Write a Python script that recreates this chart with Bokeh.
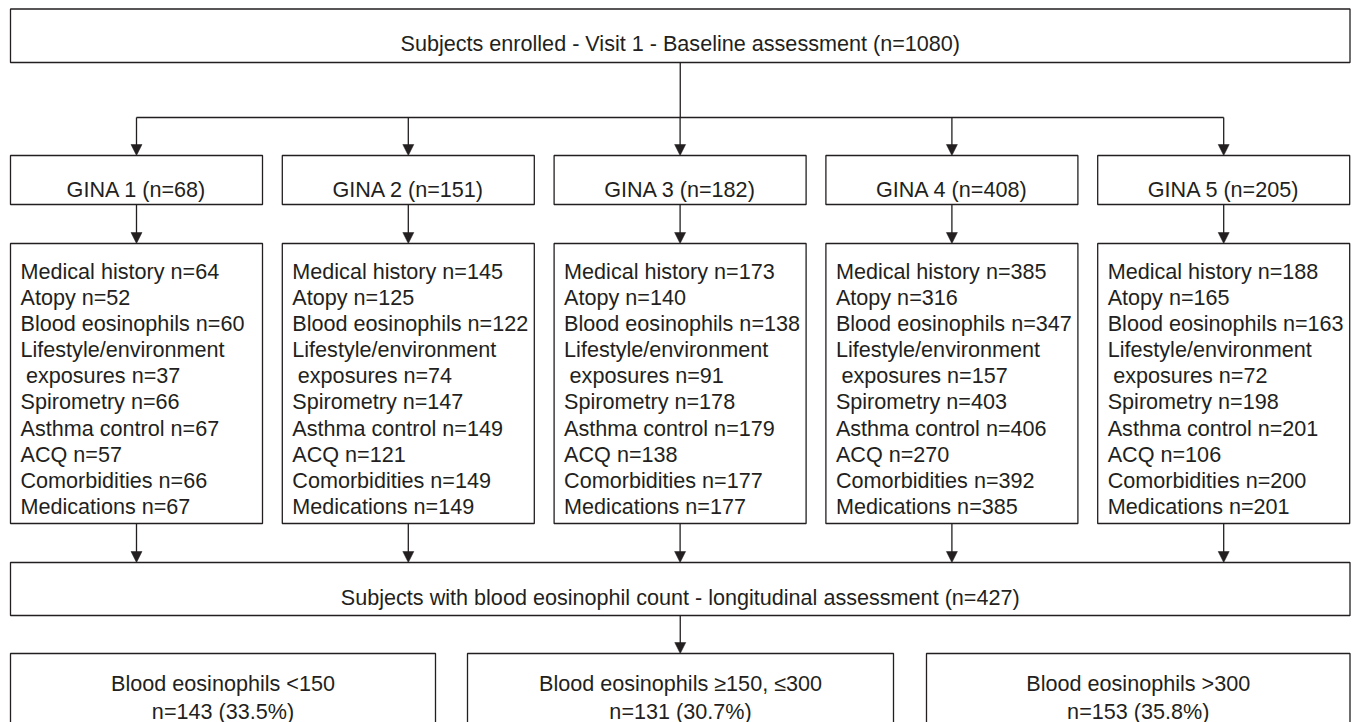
from bokeh.plotting import figure
from bokeh.models import Range1d
from bokeh.core.properties import value
from bokeh.embed import file_html
from bokeh.resources import INLINE

# ---------------- data ----------------
enrolled_label = "Subjects enrolled - Visit 1 - Baseline assessment"
enrolled_n = 1080
gina_labels = ["GINA 1", "GINA 2", "GINA 3", "GINA 4", "GINA 5"]
gina_n = [68, 151, 182, 408, 205]
item_labels = ["Medical history", "Atopy", "Blood eosinophils",
               "Lifestyle/environment exposures", "Spirometry",
               "Asthma control", "ACQ", "Comorbidities", "Medications"]
medical_history_n = [64, 145, 173, 385, 188]
atopy_n = [52, 125, 140, 316, 165]
blood_eos_n = [60, 122, 138, 347, 163]
lifestyle_n = [37, 74, 91, 157, 72]
spirometry_n = [66, 147, 178, 403, 198]
asthma_control_n = [67, 149, 179, 406, 201]
acq_n = [57, 121, 138, 270, 106]
comorbidities_n = [66, 149, 177, 392, 200]
medications_n = [67, 149, 177, 385, 201]
longitudinal_label = "Subjects with blood eosinophil count - longitudinal assessment"
longitudinal_n = 427
eos_groups = ["Blood eosinophils <150", "Blood eosinophils \u2265150, \u2264300",
              "Blood eosinophils >300"]
eos_n = [143, 131, 153]
eos_pct = [33.5, 30.7, 35.8]

item_counts = [medical_history_n, atopy_n, blood_eos_n, lifestyle_n, spirometry_n,
               asthma_control_n, acq_n, comorbidities_n, medications_n]

# ---------------- layout (screen-pixel coordinates) ----------------
W, H = 1353, 722
INK = "#231f20"
FONT = value("Liberation Sans")
FS = "21.6px"
LW = 1.3

p = figure(width=W, height=H, output_backend="svg", toolbar_location=None,
           x_range=Range1d(0, W), y_range=Range1d(H, 0),
           min_border=0, outline_line_color=None, background_fill_color="white")
p.axis.visible = False
p.grid.visible = False

X0, X1 = 10, 1349.5
XC = (X0 + X1) / 2
col_cx = [136 + 271.8 * i for i in range(5)]
HALF = 126

box_l, box_r, box_t, box_b = [], [], [], []
def box(l, r, t, b):
    box_l.append(l); box_r.append(r); box_t.append(t); box_b.append(b)

seg_x0, seg_y0, seg_x1, seg_y1 = [], [], [], []
def seg(x0, y0, x1, y1):
    seg_x0.append(x0); seg_y0.append(y0); seg_x1.append(x1); seg_y1.append(y1)

head_xs, head_ys = [], []
def arrow(x, y0, y1):
    seg(x, y0, x, y1 - 10)
    head_xs.append([x - 5.5, x + 5.5, x])
    head_ys.append([y1 - 11, y1 - 11, y1])

tx, ty, tt, ta = [], [], [], []
def txt(x, y, s, align):
    tx.append(x); ty.append(y); tt.append(s); ta.append(align)

# top box
TOP_T, TOP_B = 8.5, 62
box(X0, X1, TOP_T, TOP_B)
txt(XC, 42.5, f"{enrolled_label} (n={enrolled_n})", "center")

# connectors to GINA boxes
BUS_Y = 117
seg(XC, TOP_B, XC, BUS_Y)
seg(col_cx[0], BUS_Y, col_cx[-1], BUS_Y)
G_T, G_B = 155, 204
D_T, D_B = 243, 523
L_T, L_B = 562, 615
E_T, E_B = 653, 760

for i, cx in enumerate(col_cx):
    arrow(cx, BUS_Y, G_T)
    box(cx - HALF, cx + HALF, G_T, G_B)
    txt(cx, 188.5, f"{gina_labels[i]} (n={gina_n[i]})", "center")
    arrow(cx, G_B, D_T)
    box(cx - HALF, cx + HALF, D_T, D_B)
    lx = cx - HALF + 10
    line = 0
    for lab, arr in zip(item_labels, item_counts):
        if lab.startswith("Lifestyle"):
            first, second = lab.split(" ")
            txt(lx, 270.7 + 26.15 * line, first, "left")
            line += 1
            txt(lx + 5.5, 270.7 + 26.15 * line, f"{second} n={arr[i]}", "left")
        else:
            txt(lx, 270.7 + 26.15 * line, f"{lab} n={arr[i]}", "left")
        line += 1
    arrow(cx, D_B, L_T)

box(X0, X1, L_T, L_B)
txt(XC, 596.5, f"{longitudinal_label} (n={longitudinal_n})", "center")
arrow(XC, L_B, E_T)

eos_lr = [(10, 435), (467, 893), (926, X1)]
for (l, r), g, n, pc in zip(eos_lr, eos_groups, eos_n, eos_pct):
    box(l, r, E_T, E_B)
    c = (l + r) / 2
    txt(c, 682.5, g, "center")
    txt(c, 710.5, f"n={n} ({pc}%)", "center")

p.quad(left=box_l, right=box_r, top=box_t, bottom=box_b,
       fill_color="white", line_color=INK, line_width=LW)
p.segment(x0=seg_x0, y0=seg_y0, x1=seg_x1, y1=seg_y1, line_color=INK, line_width=LW)
p.patches(xs=head_xs, ys=head_ys, fill_color=INK, line_color=INK, line_width=0.5)

for align in ("left", "center"):
    idx = [k for k in range(len(tt)) if ta[k] == align]
    p.text(x=[tx[k] for k in idx], y=[ty[k] for k in idx], text=[tt[k] for k in idx],
           text_font=FONT, text_font_size=FS, text_color=INK,
           text_align=align, text_baseline="alphabetic")

open("out.html", "w").write(file_html(p, INLINE))
